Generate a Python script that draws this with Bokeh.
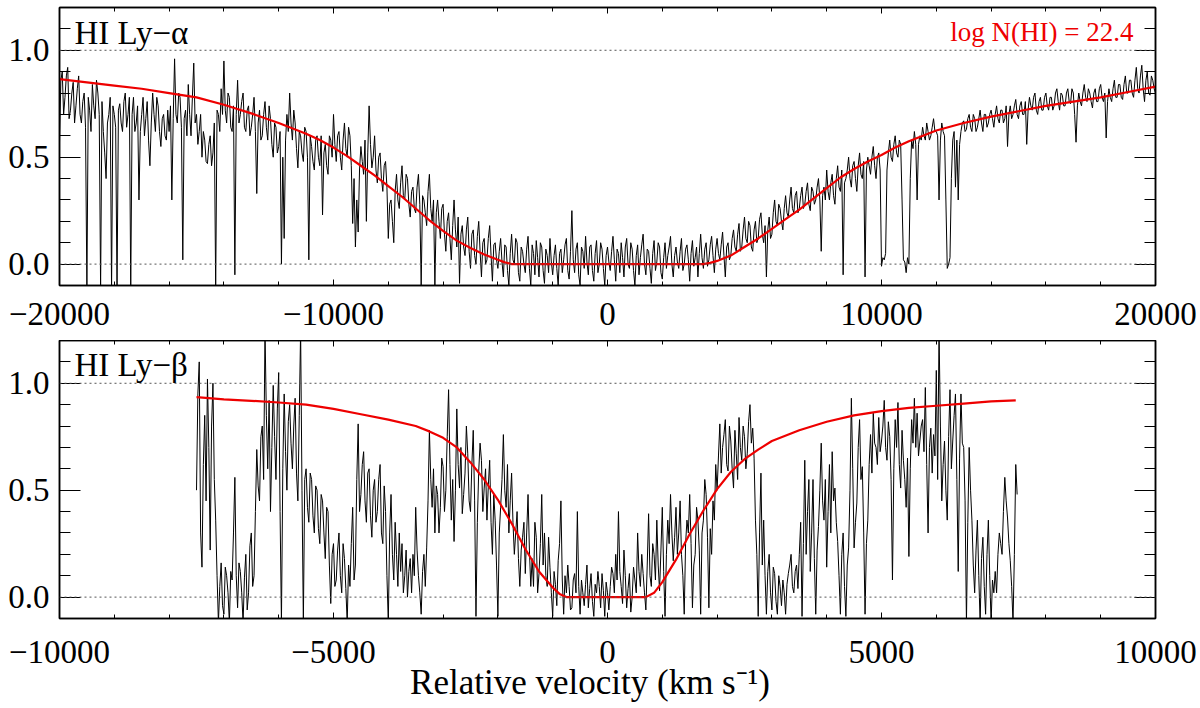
import numpy as np

from bokeh.plotting import figure
from bokeh.models import (LinearAxis, FixedTicker, CustomJSTickFormatter,
                          Span, Label, Range1d)
from bokeh.layouts import column
from bokeh.embed import file_html
from bokeh.resources import INLINE

SERIF = "Liberation Serif"

# HI Ly-alpha: normalised flux, one value per 50 km/s from -20000 to +20000
lya_start, lya_end = -20000, 20000
lya_flux = [
    0.57, 0.86, 0.90, 0.70, 0.78, 0.88, 0.92, 0.68, 0.72, 0.80, 0.85, 0.66, 0.74, 0.82, 0.88, 0.70, 0.66, 0.76, 0.80, 0.64,
    -0.12, 0.78, 0.72, 0.62, 0.84, 0.74, 0.68, 0.86, 0.80, 0.70, -0.12, 0.76, 0.62, 0.52, 0.40, 0.66, 0.70, 0.78, -0.12, 0.74,
    0.70, 0.64, -0.12, 0.72, 0.75, 0.66, 0.62, 0.76, 0.80, 0.64, 0.70, 0.78, -0.12, 0.70, 0.78, 0.62, 0.66, 0.74, 0.30, 0.62,
    0.70, 0.78, 0.60, 0.68, 0.76, 0.58, 0.46, 0.66, 0.80, 0.70, 0.62, 0.78, 0.74, 0.62, 0.55, 0.68, 0.70, 0.60, 0.58, 0.72,
    0.62, 0.74, 0.30, 0.68, 0.96, 0.70, 0.66, 0.80, 0.78, 0.64, 0.02, 0.68, 0.72, 0.60, 0.84, 0.70, 0.60, 0.78, 0.94, 0.66,
    0.70, 0.56, 0.62, 0.70, 0.50, 0.62, 0.58, 0.48, 0.47, 0.56, 0.60, 0.46, 0.52, 0.66, -0.12, 0.72, 0.70, 0.62, 0.82, 0.70,
    0.95, 0.72, 0.66, 0.80, 0.78, 0.64, 0.62, 0.74, -0.05, 0.70, 0.86, 0.66, 0.70, 0.76, 0.80, 0.64, 0.62, 0.72, 0.74, 0.60,
    0.64, 0.70, 0.78, 0.62, 0.33, 0.66, 0.72, 0.58, 0.60, 0.70, 0.76, 0.64, 0.58, 0.74, 0.68, 0.56, 0.50, 0.66, 0.64, 0.52,
    0.55, 0.62, 0.00, 0.50, 0.12, 0.58, 0.70, 0.62, 0.80, 0.66, 0.58, 0.72, 0.66, 0.54, 0.45, 0.62, 0.60, 0.52, 0.48, 0.64,
    0.62, 0.50, 0.02, 0.60, 0.55, 0.48, 0.44, 0.58, 0.60, 0.50, 0.46, 0.60, 0.23, 0.52, 0.56, 0.46, 0.42, 0.60, 0.58, 0.50,
    0.70, 0.56, 0.48, 0.60, 0.62, 0.50, 0.44, 0.58, 0.66, 0.54, 0.50, 0.64, 0.60, 0.46, 0.19, 0.40, 0.08, 0.30, 0.15, 0.44,
    0.55, 0.48, 0.42, 0.58, 0.20, 0.52, 0.74, 0.56, 0.45, 0.50, 0.60, 0.44, 0.38, 0.50, 0.52, 0.40, 0.34, 0.46, 0.48, 0.36,
    0.12, 0.28, 0.30, 0.20, 0.10, 0.34, 0.42, 0.30, 0.26, 0.38, 0.46, 0.32, 0.30, 0.42, 0.40, 0.28, 0.22, 0.34, 0.36, 0.26,
    0.24, 0.36, 0.42, 0.28, -0.10, 0.32, 0.30, 0.24, 0.18, 0.34, 0.42, 0.26, 0.20, 0.30, -0.10, 0.24, 0.30, 0.20, 0.12, 0.26,
    0.28, 0.14, 0.06, 0.20, 0.24, 0.12, 0.02, 0.18, 0.30, 0.16, 0.08, 0.22, -0.09, 0.14, 0.18, 0.08, 0.04, 0.16, 0.22, 0.06,
    -0.02, 0.14, 0.16, 0.04, 0.00, 0.13, 0.20, 0.06, -0.06, 0.10, 0.12, 0.00, 0.02, 0.12, 0.18, 0.04, -0.08, 0.09, 0.10, 0.02,
    -0.02, 0.06, 0.12, 0.01, -0.06, 0.09, 0.08, -0.03, -0.10, 0.05, 0.14, 0.02, 0.00, 0.12, 0.10, -0.04, -0.08, 0.08, 0.06, 0.00,
    -0.04, 0.07, 0.13, -0.02, -0.10, 0.09, 0.05, -0.05, 0.11, 0.03, -0.06, 0.10, 0.08, -0.03, -0.09, 0.07, 0.04, -0.04, 0.12, 0.01,
    -0.05, 0.04, 0.09, -0.02, -0.10, 0.05, 0.07, -0.04, 0.02, 0.09, 0.12, -0.03, -0.07, 0.06, 0.25, 0.02, -0.04, 0.07, 0.10, -0.05,
    -0.10, 0.08, 0.06, -0.02, 0.13, 0.01, -0.05, 0.08, 0.09, -0.03, -0.08, 0.05, 0.11, -0.04, 0.00, 0.10, 0.07, -0.02, -0.10, 0.04,
    0.08, 0.01, -0.03, 0.06, 0.13, 0.02, -0.08, 0.07, 0.05, -0.04, 0.10, 0.03, -0.06, 0.08, 0.12, 0.00, -0.02, 0.10, 0.07, -0.03,
    -0.10, 0.04, 0.09, -0.05, 0.03, 0.09, 0.14, 0.00, -0.05, 0.07, 0.06, -0.02, -0.09, 0.05, 0.11, -0.03, 0.01, 0.10, 0.08, -0.04,
    -0.07, 0.03, 0.10, -0.02, 0.04, 0.08, 0.13, 0.00, -0.06, 0.04, 0.08, 0.01, -0.02, 0.06, 0.12, -0.03, 0.00, 0.07, 0.09, 0.02,
    -0.08, 0.05, 0.11, -0.01, 0.03, 0.08, -0.06, 0.05, 0.14, 0.03, -0.02, 0.07, 0.10, -0.01, 0.02, 0.09, 0.13, 0.04, -0.04, 0.07,
    0.12, 0.05, 0.02, 0.09, 0.15, 0.04, -0.06, 0.08, 0.10, 0.02, 0.04, 0.12, 0.16, 0.08, 0.06, 0.14, 0.19, 0.06, 0.08, 0.16,
    0.22, 0.12, 0.10, 0.20, 0.18, 0.08, 0.06, 0.16, 0.20, 0.10, 0.12, 0.21, 0.24, 0.14, 0.10, 0.18, -0.06, 0.16, 0.22, 0.12,
    0.14, 0.24, 0.30, 0.20, 0.18, 0.28, 0.26, 0.20, 0.16, 0.26, 0.32, 0.24, 0.22, 0.30, 0.36, 0.26, 0.24, 0.32, 0.34, 0.24,
    0.26, 0.32, 0.36, 0.26, 0.28, 0.34, 0.38, 0.28, 0.25, 0.36, 0.34, 0.28, 0.30, 0.36, 0.40, 0.30, 0.06, 0.32, 0.36, 0.30,
    0.44, 0.34, 0.30, 0.38, 0.42, 0.32, 0.28, 0.40, 0.46, 0.36, 0.34, 0.44, -0.05, 0.38, 0.40, 0.44, 0.50, 0.40, 0.36, 0.46,
    0.48, 0.40, 0.34, 0.46, 0.52, 0.42, 0.40, 0.48, -0.06, 0.44, 0.50, 0.46, 0.42, 0.50, 0.55, 0.46, 0.40, 0.50, 0.52, 0.44,
    -0.01, 0.03, 0.02, 0.05, 0.44, 0.52, 0.58, 0.50, 0.48, 0.56, 0.60, 0.52, 0.50, 0.58, 0.56, 0.30, 0.02, 0.01, -0.04, 0.03,
    0.00, 0.40, 0.58, 0.54, 0.62, 0.56, 0.30, 0.56, 0.60, 0.58, 0.64, 0.60, 0.58, 0.66, 0.62, 0.58, 0.60, 0.64, 0.68, 0.62,
    0.62, 0.60, 0.30, 0.58, 0.66, 0.62, 0.60, 0.30, -0.02, 0.00, 0.03, 0.40, 0.58, 0.62, 0.36, 0.58, 0.30, 0.56, 0.62, 0.66,
    0.67, 0.62, 0.63, 0.68, 0.70, 0.64, 0.62, 0.70, 0.68, 0.62, 0.64, 0.68, 0.72, 0.66, 0.62, 0.70, 0.70, 0.64, 0.66, 0.70,
    0.72, 0.68, 0.64, 0.70, 0.74, 0.68, 0.66, 0.72, 0.72, 0.66, 0.68, 0.74, 0.55, 0.70, 0.74, 0.68, 0.70, 0.74, 0.77, 0.70,
    0.68, 0.74, 0.76, 0.70, 0.70, 0.76, 0.56, 0.72, 0.78, 0.74, 0.72, 0.78, 0.80, 0.72, 0.70, 0.76, 0.78, 0.72, 0.72, 0.78,
    0.80, 0.74, 0.72, 0.78, 0.78, 0.72, 0.74, 0.80, 0.82, 0.76, 0.72, 0.80, 0.79, 0.74, 0.74, 0.80, 0.82, 0.76, 0.75, 0.82,
    0.80, 0.70, 0.57, 0.74, 0.80, 0.76, 0.74, 0.80, 0.84, 0.78, 0.76, 0.82, 0.80, 0.76, 0.73, 0.80, 0.82, 0.76, 0.76, 0.82,
    0.84, 0.78, 0.76, 0.80, 0.59, 0.76, 0.82, 0.78, 0.76, 0.82, 0.86, 0.78, 0.78, 0.84, 0.84, 0.78, 0.77, 0.84, 0.88, 0.80,
    0.80, 0.86, 0.86, 0.80, 0.78, 0.86, 0.92, 0.82, 0.80, 0.88, 0.93, 0.82, 0.76, 0.86, 0.90, 0.80, 0.79, 0.88, 0.86, 0.82,
    0.80,
]
# damped Ly-alpha profile for log N(HI) = 22.4
lya_model_vel = [-20000, -19000, -18000, -17000, -16000, -15000, -14000, -13000, -12000, -11000,
                 -10500, -10000, -9500, -9000, -8500, -8000, -7500, -7000, -6500, -6000,
                 -5500, -5000, -4500, -4000, -3750, -3500,
                 3500, 3750, 4000, 4500, 5000, 5500, 6000, 6500, 7000, 7500,
                 8000, 8500, 9000, 9500, 10000, 10500, 11000, 12000, 13000, 14000,
                 15000, 16000, 17000, 18000, 19000, 20000]
lya_model = [0.865, 0.85, 0.835, 0.82, 0.80, 0.78, 0.745, 0.705, 0.66, 0.61,
             0.58, 0.545, 0.505, 0.46, 0.415, 0.365, 0.315, 0.26, 0.205, 0.155,
             0.11, 0.075, 0.045, 0.02, 0.008, 0.0,
             0.0, 0.006, 0.015, 0.04, 0.08, 0.12, 0.165, 0.21, 0.255, 0.305,
             0.355, 0.405, 0.445, 0.48, 0.51, 0.545, 0.575, 0.625, 0.66, 0.69,
             0.715, 0.74, 0.76, 0.78, 0.805, 0.83]

# HI Ly-beta: normalised flux, one value per 25 km/s from -7500 to +7475
lyb_start, lyb_end = -7500, 7475
lyb_flux = [
    0.50, 0.95, 1.10, 0.30, 0.14, 0.62, 0.85, 0.45, 1.02, 0.70, 0.22, 0.80, 1.00, 0.55, 0.36, 0.10, -0.12, 0.05, 0.16, -0.04,
    -0.08, 0.14, 0.10, 0.02, -0.12, 0.12, 0.08, 0.30, 0.56, 0.10, -0.05, 0.16, 0.12, 0.02, -0.12, 0.09, 0.20, -0.06, 0.02, 0.24,
    0.30, 0.05, 0.10, 0.40, 0.69, 0.52, 0.45, 0.75, 0.80, 0.55, 1.25, 0.85, 0.60, 0.92, 0.40, 0.70, 0.99, 0.75, 0.55, 0.88,
    1.05, 0.40, -0.12, 0.60, 0.95, 0.68, 0.50, 0.82, 0.90, 0.72, 0.60, 0.80, 0.93, 0.58, 0.45, 0.85, 1.25, 0.50, -0.12, 0.55,
    0.60, 0.42, 0.35, 0.58, 0.55, 0.38, 0.30, 0.52, 0.50, 0.32, 0.25, 0.48, 0.45, 0.30, 0.18, 0.42, 0.40, 0.15, -0.03, 0.20,
    0.25, 0.05, 0.08, 0.22, 0.30, 0.10, 0.02, 0.25, 0.18, 0.04, -0.12, 0.15, 0.05, 0.25, 0.42, 0.08, 0.15, 0.55, 0.81, 0.40,
    0.48, 0.62, 0.68, 0.45, 0.35, 0.58, 0.60, 0.38, 0.28, 0.50, 0.55, 0.35, 0.40, 0.55, 0.62, 0.30, 0.25, 0.52, 0.40, 0.10,
    -0.12, 0.30, 0.48, 0.20, 0.08, 0.35, 0.20, 0.05, 0.30, 0.12, 0.25, 0.02, 0.10, 0.22, 0.00, 0.12, 0.18, 0.02, 0.20, 0.10,
    0.42, 0.22, 0.10, 0.02, -0.08, 0.12, 0.20, 0.05, 0.23, 0.45, 0.78, 0.55, 0.42, 0.60, 0.30, 0.52, 0.48, 0.30, 0.42, 0.65,
    0.61, 0.40, 0.50, 0.75, 0.97, 0.62, 0.36, 0.55, 0.26, 0.50, 0.88, 0.62, 0.51, 0.70, 0.39, 0.48, 0.58, 0.80, 0.67, 0.45,
    0.40, 0.62, 0.78, 0.45, -0.09, 0.35, 0.59, 0.72, 0.64, 0.40, 0.51, 0.60, 0.36, 0.52, 0.64, 0.35, 0.20, 0.48, 0.36, 0.15,
    -0.09, 0.30, 0.42, 0.55, 0.76, 0.50, 0.42, 0.62, 0.30, 0.45, 0.58, 0.35, 0.20, 0.30, 0.40, 0.18, 0.05, 0.22, 0.28, 0.35,
    0.11, 0.30, 0.48, 0.22, 0.05, 0.18, 0.05, 0.35, 0.28, 0.02, 0.11, 0.25, 0.48, 0.15, 0.30, 0.10, 0.05, 0.28, 0.14, 0.02,
    -0.09, 0.12, 0.06, -0.04, 0.17, 0.25, 0.45, 0.08, -0.08, 0.10, 0.02, 0.15, 0.05, -0.06, -0.05, 0.08, 0.11, 0.02, 0.40, 0.05,
    -0.08, 0.08, 0.02, -0.04, 0.06, 0.15, -0.05, 0.04, 0.11, -0.02, -0.09, 0.06, 0.02, 0.12, 0.05, -0.05, 0.11, 0.03, -0.09, 0.07,
    0.02, -0.06, 0.05, 0.14, 0.11, 0.02, 0.20, 0.08, 0.40, 0.12, 0.05, -0.03, 0.22, 0.10, -0.05, 0.04, 0.11, -0.07, 0.00, 0.14,
    0.08, 0.02, 0.30, 0.12, 0.05, 0.20, 0.11, 0.02, -0.06, 0.15, 0.39, 0.10, 0.05, 0.25, 0.20, 0.08, 0.36, 0.15, 0.03, 0.22,
    0.42, 0.12, -0.09, 0.20, 0.36, 0.25, 0.48, 0.30, 0.17, 0.28, 0.42, 0.20, 0.30, 0.45, 0.20, 0.10, -0.08, 0.25, 0.36, 0.30,
    0.48, 0.25, -0.05, 0.15, 0.20, 0.42, 0.36, 0.22, -0.08, 0.30, 0.36, 0.55, 0.48, 0.28, -0.05, 0.32, 0.20, 0.45, 0.36, 0.62,
    0.50, 0.66, 0.81, 0.58, 0.70, 0.76, 0.83, 0.62, 0.59, 0.80, 0.73, 0.60, 0.51, 0.78, 0.67, 0.55, 0.84, 0.70, 0.64, 0.80,
    0.75, 0.60, 0.67, 0.82, 0.90, 0.72, 0.79, 0.65, 0.36, 0.20, -0.09, 0.30, 0.58, 0.15, 0.36, 0.10, -0.08, 0.12, 0.20, 0.02,
    -0.06, 0.14, 0.11, -0.02, -0.08, 0.10, 0.05, -0.04, 0.08, 0.02, -0.08, 0.06, 0.11, 0.15, 0.20, 0.05, 0.02, 0.12, 0.15, 0.04,
    0.20, 0.35, -0.09, 0.25, 0.64, 0.20, 0.40, 0.55, 0.12, 0.30, 0.55, 0.18, -0.08, 0.22, 0.33, 0.50, 0.72, 0.45, 0.36, 0.55,
    0.14, 0.40, 0.62, 0.30, 0.68, 0.45, 0.51, 0.35, 0.26, 0.10, -0.08, 0.20, 0.30, 0.05, -0.09, 0.15, 0.23, 0.50, 0.93, 0.60,
    0.23, 0.35, 0.44, 0.70, 0.83, 0.55, 0.61, 0.30, -0.08, 0.25, 0.36, 0.62, 0.76, 0.58, 0.86, 0.72, 0.70, 0.62, 0.84, 0.68,
    0.73, 0.80, 0.92, 0.70, 0.64, 0.82, 0.75, 0.55, 0.08, 0.60, 0.83, 0.70, 0.91, 0.62, 0.51, 0.78, 0.64, 0.55, 0.42, 0.65,
    0.19, 0.60, 0.83, 0.72, 0.93, 0.70, 0.86, 0.66, 0.73, 0.80, 0.83, 0.68, 0.98, 0.62, 0.30, 0.70, 0.79, 0.58, 0.76, 0.66,
    1.06, 0.55, 1.25, 0.80, 0.45, 0.62, 0.73, 0.50, 0.36, 0.75, 0.97, 0.60, 0.73, 0.85, 0.95, 0.55, 0.12, 0.65, 0.95, 0.72,
    0.70, 0.45, -0.12, 0.35, 0.70, 0.50, 0.36, 0.15, 0.02, 0.22, 0.36, 0.10, -0.12, 0.18, 0.28, 0.05, -0.08, 0.20, 0.36, 0.10,
    -0.12, 0.08, 0.02, 0.12, 0.02, 0.20, 0.30, 0.25, 0.20, 0.40, 0.56, 0.45, 0.37, 0.25, 0.17, 0.05, -0.12, 0.20, 0.62, 0.48,
]
lyb_model_vel = [-7500, -7000, -6500, -6000, -5500, -5000, -4500, -4000, -3500, -3250,
                 -3000, -2750, -2500, -2250, -2000, -1750, -1500, -1250, -1000, -875, -750,
                 700, 850, 1000, 1250, 1500, 1750, 2000, 2250, 2500, 2750, 3000,
                 3500, 4000, 4500, 5000, 5500, 6000, 6500, 7000, 7450]
lyb_model = [0.935, 0.925, 0.918, 0.91, 0.90, 0.88, 0.855, 0.83, 0.80, 0.775,
             0.745, 0.70, 0.63, 0.55, 0.455, 0.345, 0.225, 0.12, 0.045, 0.015, 0.0,
             0.0, 0.02, 0.07, 0.175, 0.295, 0.405, 0.505, 0.585, 0.645, 0.69, 0.73,
             0.78, 0.82, 0.85, 0.87, 0.885, 0.895, 0.905, 0.915, 0.92]

x_fmt = CustomJSTickFormatter(code="return tick < 0 ? '\u2212' + Math.abs(tick) : String(tick);")
y_fmt = CustomJSTickFormatter(code="return tick.toFixed(1);")
no_fmt = CustomJSTickFormatter(code="return '';")


def style_axis(ax, tick_in, minor_in, font_size, standoff):
    ax.axis_line_color = "black"
    ax.axis_line_width = 1.5
    ax.major_tick_in = tick_in
    ax.major_tick_out = 0
    ax.minor_tick_in = minor_in
    ax.minor_tick_out = 0
    ax.major_tick_line_color = "black"
    ax.minor_tick_line_color = "black"
    ax.major_label_text_font = SERIF
    ax.major_label_text_color = "black"
    ax.major_label_text_font_size = font_size
    ax.major_label_standoff = standoff


def make_panel(x0, x1, x_major, x_minor, vel, flux, mvel, model,
               height, top_border, bottom_border, x_standoff):
    p = figure(width=1200, height=height, x_range=Range1d(x0, x1), y_range=Range1d(-0.1, 1.2),
               x_axis_type=None, y_axis_type=None, toolbar_location=None, output_backend="svg",
               min_border_left=59, min_border_right=45, min_border_top=top_border,
               min_border_bottom=bottom_border)
    p.outline_line_color = "black"
    p.outline_line_width = 1.5
    p.background_fill_color = "white"
    p.border_fill_color = "white"

    xt = FixedTicker(ticks=x_major, minor_ticks=x_minor)
    yt = FixedTicker(ticks=[0.0, 0.5, 1.0],
                     minor_ticks=[round(0.1 * i, 1) for i in range(1, 12) if i % 5])

    bottom = LinearAxis(ticker=xt, formatter=x_fmt)
    style_axis(bottom, 6, 4, "33px", x_standoff)
    p.add_layout(bottom, "below")
    top = LinearAxis(ticker=xt, formatter=no_fmt)
    style_axis(top, 6, 4, "0px", 0)
    p.add_layout(top, "above")
    left = LinearAxis(ticker=yt, formatter=y_fmt)
    style_axis(left, 21, 11, "33px", 10)
    p.add_layout(left, "left")
    right = LinearAxis(ticker=yt, formatter=no_fmt)
    style_axis(right, 21, 11, "0px", 0)
    p.add_layout(right, "right")

    for level in (0.0, 1.0):
        p.add_layout(Span(location=level, dimension="width", line_color="#555555",
                          line_width=1, line_dash="2 3"))

    p.line(vel, flux, line_color="black", line_width=1)
    p.line(mvel, model, line_color="#ee0000", line_width=2.2)
    return p


lya_vel = np.linspace(lya_start, lya_end, len(lya_flux))
lyb_vel = np.linspace(lyb_start, lyb_end, len(lyb_flux))

p1 = make_panel(-20000, 20000, [-20000, -10000, 0, 10000, 20000],
                [v for v in range(-20000, 20001, 2000) if v % 10000],
                lya_vel, lya_flux, lya_model_vel, lya_model, 340, 7, 55, 17)
p1.add_layout(Label(x=-19453, y=1.039, y_offset=9, text="HI Ly\u2212\u03b1", text_font=SERIF,
                    text_font_size="33px", text_color="black", text_baseline="alphabetic"))
p1.add_layout(Label(x=19197, y=1.045, y_offset=9, text="log N(HI) = 22.4", text_font=SERIF,
                    text_font_size="27px", text_color="#ee0000", text_align="right",
                    text_baseline="alphabetic"))

p2 = make_panel(-10000, 10000, [-10000, -5000, 0, 5000, 10000],
                [v for v in range(-10000, 10001, 1000) if v % 5000],
                lyb_vel, lyb_flux, lyb_model_vel, lyb_model, 368, 0, 90, 22)
p2.add_layout(Label(x=-9726, y=1.044, y_offset=9, text="HI Ly\u2212\u03b2", text_font=SERIF,
                    text_font_size="33px", text_color="black", text_baseline="alphabetic"))
xax = p2.below[0]
# trailing no-break spaces nudge the centred title slightly left, as in the original
xax.axis_label = "Relative velocity (km s\u207b\u00b9)\u00a0\u00a0\u00a0\u00a0"
xax.axis_label_text_font = SERIF
xax.axis_label_text_font_size = "35px"
xax.axis_label_text_font_style = "normal"
xax.axis_label_text_color = "black"
xax.axis_label_standoff = -3

layout = column(p1, p2)
open("out.html", "w").write(file_html(layout, INLINE))
